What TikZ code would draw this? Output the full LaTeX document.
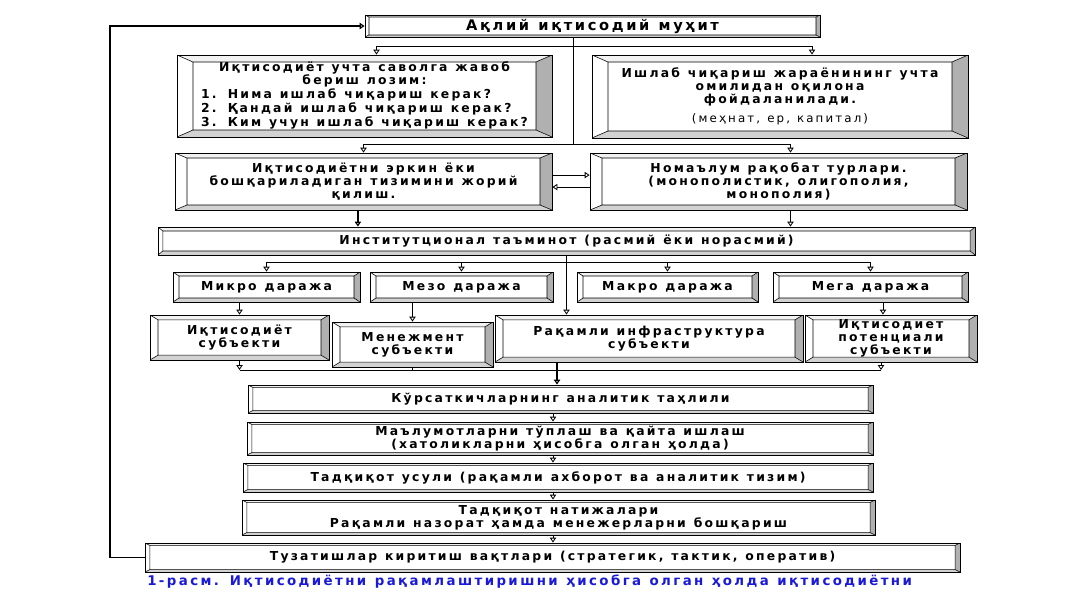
\documentclass[tikz,border=0pt]{standalone}
\usepackage{fontspec}
\setmainfont{DejaVu Sans}[LetterSpace=18, WordSpace=1.2]
\usetikzlibrary{arrows.meta}

\definecolor{capblue}{RGB}{25,25,215}

\tikzset{
  bevel/.style n args={2}{draw, line width=0.6pt, inner sep=1pt, align=center,
    font=\fontsize{8.8}{9.2}\selectfont\bfseries,
    path picture={
      \coordinate (pa) at (path picture bounding box.north west);
      \coordinate (pb) at (path picture bounding box.north east);
      \coordinate (pc) at (path picture bounding box.south east);
      \coordinate (pd) at (path picture bounding box.south west);
      \coordinate (ia) at ([xshift=#1,yshift=-#2]pa);
      \coordinate (ib) at ([xshift=-#1,yshift=-#2]pb);
      \coordinate (ic) at ([xshift=-#1,yshift=#2]pc);
      \coordinate (id) at ([xshift=#1,yshift=#2]pd);
      \fill[gray!10] (pa) -- (pb) -- (ib) -- (ia) -- cycle;
      \fill[gray!62] (pb) -- (pc) -- (ic) -- (ib) -- cycle;
      \fill[gray!35] (pc) -- (pd) -- (id) -- (ic) -- cycle;
      \draw[line width=0.4pt] (ia) rectangle (ic)
        (pa) -- (ia) (pb) -- (ib) (pc) -- (ic) (pd) -- (id);
    }},
  sz/.style 2 args={minimum width=#1*0.025cm, minimum height=#2*0.025cm},
  con/.style={line width=0.6pt},
  arr/.style={con, -{Triangle[open, length=3.5pt, width=4.5pt]}},
  caption/.style={font=\fontsize{9.5}{11}\selectfont\bfseries, text=capblue, inner sep=0pt},
}

\begin{document}
\begin{tikzpicture}[x=0.025cm, y=-0.025cm]
  \useasboundingbox (0,0) rectangle (1067,600);

  % top
  \node[bevel={0.1cm}{0.05cm}, sz={455}{22}, font=\fontsize{10.4}{12}\selectfont\bfseries] (top) at (592.5,26) {Ақлий иқтисодий муҳит};

  % two big boxes
  \node[bevel={0.4cm}{0.175cm}, sz={375}{82}] (q) at (364.5,96)
    {Иқтисодиёт учта саволга жавоб\\ бериш лозим:\\
     \begin{tabular}{@{}l@{\hspace{0.9em}}l@{}}
       1. & Нима ишлаб чиқариш керак?\\
       2. & Қандай ишлаб чиқариш керак?\\
       3. & Ким учун ишлаб чиқариш керак?
     \end{tabular}};
  \node[bevel={0.4cm}{0.175cm}, sz={376}{83}] (f) at (780,96.5)
    {Ишлаб чиқариш жараёнининг учта\\ омилидан оқилона\\ фойдаланилади.\\[4pt]
     {\mdseries\fontsize{8.4}{9}\selectfont (меҳнат, ер, капитал)}};

  \node[bevel={0.3cm}{0.125cm}, sz={377}{57}] (e) at (363.5,181.5)
    {Иқтисодиётни эркин ёки\\ бошқариладиган  тизимини жорий\\ қилиш.};
  \node[bevel={0.3cm}{0.125cm}, sz={377}{57}] (n) at (778.5,181.5)
    {Номаълум рақобат турлари.\\ (монополистик, олигополия,\\ монополия)};

  \node[bevel={0.12cm}{0.1cm}, sz={817}{28}] (inst) at (566.5,241)
    {Институтционал таъминот (расмий ёки норасмий)};

  % levels
  \node[bevel={0.15cm}{0.1cm}, sz={187}{30}] (micro) at (266.5,287) {Микро даража};
  \node[bevel={0.15cm}{0.1cm}, sz={183}{30}] (mezo) at (461.5,287) {Мезо даража};
  \node[bevel={0.15cm}{0.1cm}, sz={181}{30}] (makro) at (667.5,287) {Макро даража};
  \node[bevel={0.15cm}{0.1cm}, sz={195}{30}] (mega) at (870.5,287) {Мега даража};

  % subjects
  \node[bevel={0.2cm}{0.12cm}, sz={179}{45}] (iq) at (239.5,337.5) {Иқтисодиёт\\ субъекти};
  \node[bevel={0.2cm}{0.12cm}, sz={161}{45}] (men) at (412.5,344.5) {Менежмент\\ субъекти};
  \node[bevel={0.2cm}{0.12cm}, sz={308}{47}] (raq) at (649,338.5) {Рақамли инфраструктура\\ субъекти};
  \node[bevel={0.2cm}{0.12cm}, sz={172}{47}] (pot) at (891,338.5) {Иқтисодиет\\ потенциали\\ субъекти};

  % bottom chain
  \node[bevel={0.12cm}{0.06cm}, sz={625}{28}] (kor) at (560.5,399) {Кўрсаткичларнинг аналитик  таҳлили};
  \node[bevel={0.12cm}{0.06cm}, sz={626}{33}] (mal) at (560,438.5)
    {Маълумотларни тўплаш ва қайта ишлаш\\ (хатоликларни ҳисобга олган ҳолда)};
  \node[bevel={0.12cm}{0.06cm}, sz={630}{29}] (tad) at (558,477.5) {Тадқиқот усули (рақамли ахборот ва аналитик тизим)};
  \node[bevel={0.12cm}{0.06cm}, sz={633}{35}] (nat) at (558.5,517.5)
    {Тадқиқот натижалари\\ Рақамли назорат ҳамда менежерларни бошқариш};
  \node[bevel={0.12cm}{0.06cm}, sz={815}{29}] (tuz) at (552.5,557.5) {Тузатишлар киритиш вақтлари (стратегик, тактик, оператив)};

  \node[caption, anchor=west] (cap) at (147,582)
    {1-расм. Иқтисодиётни рақамлаштиришни ҳисобга олган ҳолда иқтисодиётни};

  % connectors
  \coordinate (tA) at (573,46);
  \coordinate (tB) at (573,144);
  \draw[con] (top.south -| tA) -- (tB);
  \draw[arr] (tA) -| ([xshift=0.3cm]q.north);
  \draw[arr] (tA) -| ([xshift=0.8cm]f.north);
  \draw[arr] (tB) -| (e.north);
  \draw[arr] (tB) -| ([xshift=0.3cm]n.north);

  \draw[arr] ([yshift=0.16cm]e.east) -- ([yshift=0.16cm]n.west);
  \draw[arr] ([yshift=-0.14cm]n.west) -- ([yshift=-0.14cm]e.east);

  \coordinate (eS) at ([xshift=-0.14cm]e.south);
  \coordinate (nS) at ([xshift=0.3cm]n.south);
  \draw[arr, line width=1.2pt] (eS) -- (eS |- inst.north);
  \draw[arr] (nS) -- (nS |- inst.north);

  \coordinate (lvbus) at (0,262);
  \draw[arr] (inst.south) -- (inst.south |- raq.north);
  \draw[con] (micro.north |- lvbus) -- (mega.north |- lvbus);
  \foreach \lv in {micro,mezo,makro,mega}
    \draw[arr] (\lv.north |- lvbus) -- (\lv.north);

  \draw[arr] (iq.north |- micro.south) -- (iq.north);
  \draw[arr] (men.north |- mezo.south) -- (men.north);
  \draw[arr] ([xshift=-0.2cm]pot.north |- mega.south) -- ([xshift=-0.2cm]pot.north);

  \coordinate (sb) at (557,370);
  \draw[con] (iq.south |- sb) -- ([xshift=-0.25cm]pot.south |- sb);
  \draw[arr] (iq.south) -- (iq.south |- sb);
  \draw[con] (men.south) -- (men.south |- sb);
  \draw[arr] ([xshift=-0.25cm]pot.south) -- ([xshift=-0.25cm]pot.south |- sb);
  \draw[arr, line width=1.2pt] (raq.south -| sb) -- (kor.north -| sb);

  \coordinate (chain) at (553,0);
  \foreach \a/\b in {kor/mal, mal/tad, tad/nat, nat/tuz}
    \draw[arr] (\a.south -| chain) -- (\b.north -| chain);

  % feedback loop
  \coordinate (lp) at (110,300);
  \draw[arr, line width=0.9pt] (tuz.west) -| (lp) |- (top.west);
\end{tikzpicture}
\end{document}
